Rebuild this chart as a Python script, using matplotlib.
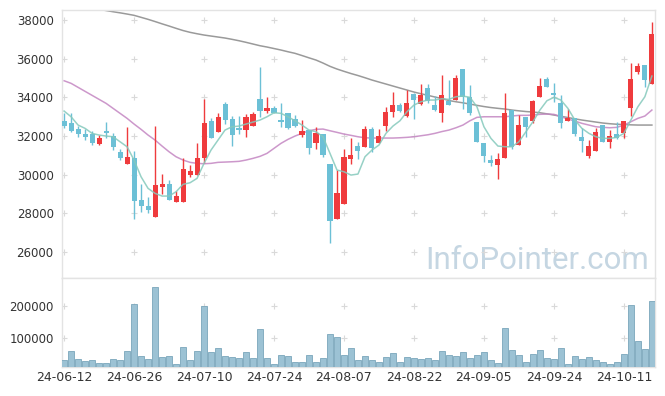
import numpy as np
import matplotlib as mpl
mpl.use('Agg')
import matplotlib.pyplot as plt

# ---- data ----
dates = ['24-06-12', '24-06-13', '24-06-14', '24-06-17', '24-06-18', '24-06-19', '24-06-20',
         '24-06-21', '24-06-24', '24-06-25', '24-06-26', '24-06-27', '24-06-28',
         '24-07-01', '24-07-02', '24-07-03', '24-07-04', '24-07-05', '24-07-08', '24-07-09',
         '24-07-10', '24-07-11', '24-07-12', '24-07-15', '24-07-16', '24-07-17', '24-07-18',
         '24-07-19', '24-07-22', '24-07-23', '24-07-24', '24-07-25', '24-07-26', '24-07-29',
         '24-07-30', '24-07-31',
         '24-08-01', '24-08-02', '24-08-05', '24-08-06', '24-08-07', '24-08-08', '24-08-09',
         '24-08-12', '24-08-13', '24-08-14', '24-08-16', '24-08-19', '24-08-20', '24-08-21',
         '24-08-22', '24-08-23', '24-08-26', '24-08-27', '24-08-28', '24-08-29', '24-08-30',
         '24-09-02', '24-09-03', '24-09-04', '24-09-05', '24-09-06', '24-09-09', '24-09-10',
         '24-09-11', '24-09-12', '24-09-13', '24-09-19', '24-09-20', '24-09-23', '24-09-24',
         '24-09-25', '24-09-26', '24-09-27', '24-09-30',
         '24-10-02', '24-10-04', '24-10-07', '24-10-08', '24-10-10', '24-10-11', '24-10-14',
         '24-10-15', '24-10-16', '24-10-17']

opens = [32776, 32690, 32363, 32104, 32120, 31571, 32259, 32000, 31190, 30570,
         30863, 28690, 28380, 27827, 29380, 29535, 28603, 28603, 29984, 30000,
         30880, 32776, 32223, 33655, 32862, 32380, 32311, 32533, 33914, 33310,
         33431, 32776, 33173, 32862, 32052, 32311, 31623, 32104, 30537, 27725,
         28468, 30827, 31483, 31416, 32363, 31655, 32533, 33260, 33604, 33050,
         34157, 33640, 34483, 33604, 33206, 33828, 33862, 35450, 34034, 32740,
         31620, 30760, 30500, 30880, 33345, 31535, 32966, 32793, 34034, 34950,
         34225, 33690, 32776, 32915, 31966, 30985, 31225, 32570, 31707, 32087,
         32140, 33465, 35295, 35672, 34674]
highs = [33190, 33206, 32518, 32363, 32243, 32052, 32740, 32138, 31311, 32450,
         31240, 29500, 28827, 32518, 30035, 29725, 29173, 30880, 30500, 31623,
         33900, 32915, 33173, 33775, 33052, 33052, 33138, 33225, 35585, 34000,
         33550, 33690, 33206, 33087, 32828, 32311, 32480, 32104, 30537, 30242,
         31310, 31880, 31707, 32500, 32480, 32345, 33517, 34260, 33690, 34380,
         34210, 34690, 34690, 34070, 35155, 34897, 35155, 35450, 34640, 32740,
         31620, 31018, 31100, 34210, 33345, 33087, 32966, 33862, 34985, 35070,
         34760, 34120, 33380, 32915, 32400, 31794, 32430, 32570, 32311, 32707,
         32776, 35760, 35760, 35672, 37912]
lows = [32414, 32223, 31966, 31794, 31535, 31535, 31880, 31276, 30759, 30570,
        27690, 28086, 28035, 27827, 28986, 28675, 28603, 28603, 29897, 30000,
        30588, 31914, 32223, 32621, 31500, 32104, 31934, 32533, 32968, 33173,
        33190, 32480, 32345, 32480, 31966, 31050, 31310, 30930, 26482, 27690,
        28468, 30552, 30795, 31416, 31190, 31623, 32260, 33000, 33260, 33000,
        32860, 33600, 33725, 33310, 32740, 33604, 33862, 33380, 33087, 31707,
        30670, 30450, 29760, 30880, 31310, 31535, 31966, 32690, 34034, 34520,
        33775, 32400, 32776, 32017, 31190, 30880, 31225, 31673, 31397, 31845,
        31880, 33035, 35190, 34550, 34674]
closes = [32540, 32275, 32087, 31966, 31655, 31897, 32156, 31448, 30880, 30914,
          28655, 28396, 28173, 29466, 29535, 28706, 28897, 30278, 30190, 30863,
          32657, 31914, 32966, 32828, 32052, 32330, 32966, 33138, 33310, 33431,
          33206, 32740, 32430, 32533, 32259, 31397, 32140, 31018, 27620, 29036,
          30930, 31018, 31240, 32345, 31364, 32000, 33260, 33604, 33293, 33690,
          33862, 34120, 33810, 33345, 34120, 33604, 34985, 34034, 33206, 31707,
          30966, 30590, 30810, 33206, 31415, 32570, 32480, 33828, 34587, 34550,
          34140, 32660, 32915, 32087, 31740, 31483, 32190, 31707, 32000, 31880,
          32776, 34933, 35620, 34897, 37260]
volumes = [29900, 57700, 35000, 26800, 32000, 22700, 22700, 35000, 29900, 57700,
           205000, 44300, 35000, 258800, 41200, 44300, 19600, 72200, 29900, 57700,
           200000, 54600, 69000, 44300, 41200, 38100, 54600, 38100, 127800, 38100,
           19600, 47400, 44300, 25800, 25800, 47400, 25800, 38100, 112400, 103000,
           47400, 69000, 32000, 44300, 32000, 25800, 41200, 53600, 25800, 41200,
           38100, 35000, 38100, 32000, 59800, 47400, 44300, 56700, 38100, 47400,
           56700, 32000, 22700, 130900, 62900, 47400, 25800, 50500, 62900, 38100,
           35000, 69000, 19600, 44300, 35000, 41200, 32000, 25800, 19600, 25800,
           50500, 202000, 90700, 66000, 214000]

ma5 = [33293, 32998, 32569, 32398, 32140, 32052, 32000, 31964, 31705, 31447,
       30759, 29895, 29295, 29037, 28897, 28897, 29119, 29502, 29585, 29812,
       30588, 31276, 31793, 32310, 32481, 32517, 32621, 32724, 32828, 32998,
       33205, 33174, 32998, 32791, 32569, 32310, 32223, 31964, 31105, 30242,
       30154, 29983, 30035, 30930, 31276, 31535, 32140, 32517, 32791, 33257,
       33603, 33774, 33862, 33862, 33929, 33898, 34033, 34069, 34002, 33515,
       32481, 31881, 31483, 31447, 31447, 31705, 32223, 32740, 33345, 33826,
       34002, 33862, 33433, 32828, 32398, 32140, 31964, 31881, 31881, 31933,
       32140, 32828, 33515, 34033, 35103]
ma20 = [34860, 34726, 34519, 34312, 34105, 33898, 33691, 33433, 33174, 32916,
        32621, 32347, 32052, 31793, 31483, 31188, 30930, 30759, 30640, 30588,
        30568, 30588, 30640, 30655, 30671, 30692, 30759, 30847, 30950, 31105,
        31364, 31623, 31829, 32000, 32140, 32274, 32347, 32362, 32274, 32191,
        32104, 32036, 31964, 31912, 31897, 31897, 31897, 31897, 31912, 31933,
        31964, 32016, 32067, 32140, 32233, 32310, 32429, 32569, 32791, 32967,
        32998, 32998, 32998, 32998, 33035, 33071, 33071, 33086, 33122, 33138,
        33122, 32998, 32879, 32776, 32657, 32569, 32481, 32450, 32429, 32450,
        32569, 32740, 32916, 33035, 33345]
ma60 = [38931, 38853, 38775, 38698, 38620, 38553, 38491, 38429, 38372, 38310,
        38243, 38140, 38036, 37922, 37803, 37690, 37571, 37457, 37364, 37291,
        37224, 37172, 37121, 37069, 37002, 36929, 36847, 36759, 36671, 36604,
        36526, 36448, 36360, 36278, 36164, 36045, 35931, 35776, 35605, 35466,
        35347, 35233, 35130, 35016, 34897, 34793, 34690, 34586, 34483, 34380,
        34276, 34188, 34105, 34018, 33940, 33837, 33774, 33718, 33655, 33588,
        33526, 33474, 33433, 33397, 33345, 33304, 33268, 33242, 33206, 33149,
        33087, 33024, 32957, 32890, 32828, 32776, 32724, 32673, 32637, 32611,
        32595, 32580, 32569, 32569, 32569]

price_ticks = [26000, 28000, 30000, 32000, 34000, 36000, 38000]
vol_ticks = [100000, 200000]

# ---- styling ----
UP = '#ef3b3d'
DOWN = '#6cc0d6'
GRID = '#d9d9d9'
FRAME = '#e3e3e3'
TXT = '#333333'

plt.rcParams['font.family'] = ['DejaVu Sans']

fig = plt.figure(figsize=(6.65, 3.96), dpi=100)
ax = fig.add_axes([0.0932, 0.298, 0.8918, 0.6768])
axv = fig.add_axes([0.0932, 0.0732, 0.8918, 0.2248], sharex=ax)

x = np.arange(len(dates))
o = np.array(opens, float)
c = np.array(closes, float)
up = c >= o
cols = np.where(up, UP, DOWN)

# wicks + bodies
ax.vlines(x, lows, highs, colors=cols, linewidth=1.0, zorder=3)
bottom = np.minimum(o, c)
height = np.maximum(np.abs(c - o), 70)
ax.bar(x, height, width=0.72, bottom=bottom, color=cols, linewidth=0, zorder=4)

# moving averages
ax.plot(x, ma60, color='#8f8f8f', lw=1.1, alpha=0.9, zorder=2)
ax.plot(x, ma20, color='#c486c2', lw=1.1, alpha=0.85, zorder=2)
ax.plot(x, ma5, color='#85c9bc', lw=1.1, alpha=0.85, zorder=5)

ax.set_ylim(24660, 38520)
ax.set_xlim(-0.3, 84.45)
ax.set_yticks(price_ticks)
ax.set_yticklabels([str(t) for t in price_ticks])

# volume
axv.bar(x, volumes, width=0.86, color='#9cc2d4', edgecolor='#7aa6bb', linewidth=0.6, zorder=3)
axv.set_ylim(9000, 287000)
axv.set_yticks(vol_ticks)
axv.set_yticklabels([str(t) for t in vol_ticks])

tick_idx = list(range(0, len(dates), 10))
axv.set_xticks(tick_idx)
axv.set_xticklabels([dates[i] for i in tick_idx])

# '+' grid marks at the tick crossings
gx, gy = np.meshgrid(tick_idx, price_ticks)
ax.scatter(gx.ravel(), gy.ravel(), marker='+', s=22, color=GRID, linewidths=0.8, zorder=1)
gx, gy = np.meshgrid(tick_idx, vol_ticks)
axv.scatter(gx.ravel(), gy.ravel(), marker='+', s=22, color=GRID, linewidths=0.8, zorder=1)

for a in (ax, axv):
    for s in a.spines.values():
        s.set_color(FRAME)
        s.set_linewidth(1.0)
    a.tick_params(length=0, colors=TXT, labelsize=8.5, pad=6)
ax.tick_params(labelbottom=False)
axv.tick_params(axis='x', pad=3, labelsize=9)

# watermark
ax.text(0.99, 0.035, 'InfoPointer.com', transform=ax.transAxes, ha='right', va='baseline',
        fontsize=22.5, color='#c5d6e2', family='Roboto', zorder=0)

fig.savefig('out.png', dpi=100)
